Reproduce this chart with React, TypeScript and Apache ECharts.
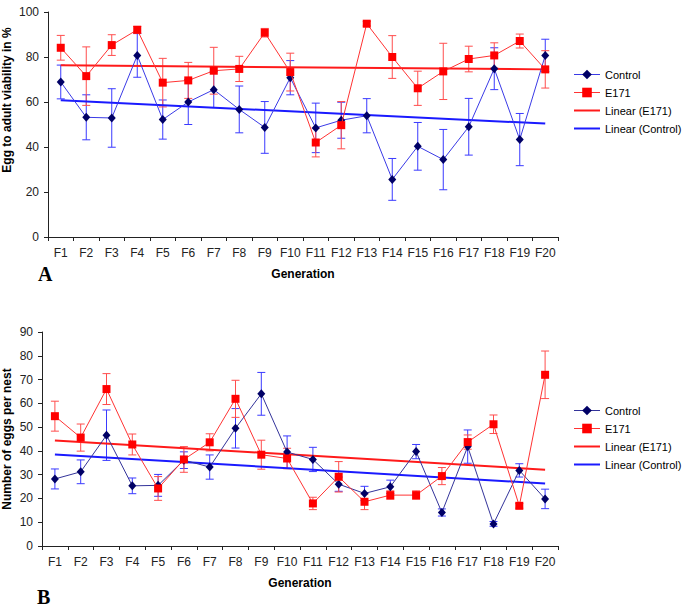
import React, { useEffect, useRef } from "react";
import * as echarts from "echarts";

const generations = ["F1","F2","F3","F4","F5","F6","F7","F8","F9","F10","F11","F12","F13","F14","F15","F16","F17","F18","F19","F20"];

// Panel A: egg to adult viability (%)
const viabControl = [68.9, 53.2, 52.9, 80.7, 52.2, 60.0, 65.5, 56.7, 48.7, 70.8, 48.5, 51.9, 53.9, 25.6, 40.3, 34.4, 49.0, 74.8, 43.3, 80.7];
const viabControlErr = [7.5, 10, 13, 9.7, 8.7, 10, 8, 10.4, 11.5, 7.6, 11, 8, 7.6, 9.3, 10.6, 13.4, 12.6, 9.3, 11.6, 7.2];
const viabE171 = [84.1, 71.5, 85.3, 92.1, 68.6, 69.6, 73.9, 74.7, 90.8, 73.3, 42.0, 49.7, 94.8, 80.0, 66.1, 73.6, 79.1, 80.7, 87.1, 74.5];
const viabE171Err = [5.5, 13, 4.6, 1.5, 10.8, 8, 10.4, 5.6, 1.9, 8.4, 6.4, 10.5, 1, 9.5, 7.6, 12.5, 5.7, 5.6, 3.1, 8.3];
const viabTrendE171 = [76.3, 74.5];
const viabTrendControl = [60.8, 50.4];

// Panel B: number of eggs per nest
const eggsControl = [28.2, 31.2, 46.6, 25.3, 25.5, 36.1, 33.2, 49.5, 64.0, 39.5, 36.4, 26.0, 22.1, 24.9, 39.7, 14.1, 41.8, 9.3, 31.8, 19.8];
const eggsControlErr = [4.2, 5, 10.6, 3.3, 4.6, 3.5, 5.1, 8.3, 9, 6.8, 5.1, 3, 3, 2.8, 3, 1.5, 7, 1, 2.8, 4.1];
const eggsE171 = [54.6, 45.6, 66.0, 42.7, 24.2, 36.4, 43.6, 61.9, 38.4, 36.8, 17.9, 29.1, 18.6, 21.4, 21.4, 29.4, 43.7, 51.2, 16.9, 72.0];
const eggsE171Err = [6.3, 5.7, 6.5, 4.4, 5, 5.4, 3.6, 7.8, 6.1, 4.3, 2.6, 6.4, 3.3, 1.8, 1.8, 3.6, 3, 3.9, 1, 10];
const eggsTrendE171 = [44.4, 32.1];
const eggsTrendControl = [38.5, 26.3];

const yTicksA = { min: 0, max: 100, interval: 20 };
const yTicksB = { min: 0, max: 90, interval: 10 };

const FONT = 'Arial, "Liberation Sans", sans-serif';

function trendData(ends: number[]) {
  const last = generations.length - 1;
  return generations.map((_, i) => (i === 0 ? ends[0] : i === last ? ends[1] : null));
}

function errData(vals: number[], errs: number[]) {
  return vals.map((v, i) => [i, v, errs[i]]);
}

function errSeries(name: string, idx: number, vals: number[], errs: number[], color: string) {
  return {
    type: "custom",
    name,
    xAxisIndex: idx,
    yAxisIndex: idx,
    z: 1,
    silent: true,
    encode: { x: 0, y: 1 },
    data: errData(vals, errs),
    renderItem: (params: any, api: any) => {
      const x = api.value(0);
      const v = api.value(1);
      const e = api.value(2);
      const hi = api.coord([x, v + e]);
      const lo = api.coord([x, v - e]);
      const w = 4;
      const st = { stroke: color, lineWidth: 1 };
      return {
        type: "group",
        children: [
          { type: "line", shape: { x1: hi[0], y1: hi[1], x2: lo[0], y2: lo[1] }, style: st },
          { type: "line", shape: { x1: hi[0] - w, y1: hi[1], x2: hi[0] + w, y2: hi[1] }, style: st },
          { type: "line", shape: { x1: lo[0] - w, y1: lo[1], x2: lo[0] + w, y2: lo[1] }, style: st },
        ],
      };
    },
  };
}

function axes(idx: number, ticks: { min: number; max: number; interval: number }) {
  const x = {
    type: "category",
    gridIndex: idx,
    data: generations,
    boundaryGap: true,
    axisLine: { lineStyle: { color: "#222", width: 1 } },
    axisTick: { show: true, length: 4, lineStyle: { color: "#222" } },
    axisLabel: { color: "#222", fontSize: 12, fontFamily: FONT, margin: 10, interval: 0 },
    splitLine: { show: false },
  };
  const y = {
    type: "value",
    gridIndex: idx,
    min: ticks.min,
    max: ticks.max,
    interval: ticks.interval,
    axisLine: { show: true, lineStyle: { color: "#222", width: 1 } },
    axisTick: { show: true, length: 4, lineStyle: { color: "#222" } },
    axisLabel: { color: "#222", fontSize: 12, fontFamily: FONT, margin: 9 },
    splitLine: { show: false },
  };
  return { x, y };
}

function legendFor(top: number, controlLine: string) {
  return {
    orient: "vertical",
    left: 568,
    top,
    itemWidth: 26,
    itemHeight: 12,
    itemGap: 7,
    textStyle: { fontSize: 11, fontFamily: FONT, color: "#000" },
    data: [
      { name: "Control", itemStyle: { color: "#000066" }, lineStyle: { color: controlLine, width: 1 } },
      { name: "E171", itemStyle: { color: "#ff0000" }, lineStyle: { color: "#ff3333", width: 1 } },
      { name: "Linear (E171)", itemStyle: { color: "#ff1a1a", opacity: 0 }, lineStyle: { color: "#ff1a1a", width: 2 } },
      { name: "Linear (Control)", itemStyle: { color: "#1a1aff", opacity: 0 }, lineStyle: { color: "#1a1aff", width: 2 } },
    ],
  };
}

export default function App() {
  const ref = useRef<HTMLDivElement>(null);
  useEffect(() => {
    if (!ref.current) return;
    const chart = echarts.init(ref.current, null, { renderer: "svg" });
    const a = axes(0, yTicksA);
    const b = axes(1, yTicksB);
    const ctrlLineA = "#3a3ae6";
    const ctrlLineB = "#33339a";
    const option: any = {
      animation: false,
      backgroundColor: "#fff",
      grid: [
        { left: 48, top: 12, width: 510, height: 225, containLabel: false },
        { left: 42, top: 332, width: 516, height: 214, containLabel: false },
      ],
      xAxis: [a.x, b.x],
      yAxis: [a.y, b.y],
      legend: [legendFor(64, ctrlLineA), legendFor(400, ctrlLineB)],
      series: [
        errSeries("Control err A", 0, viabControl, viabControlErr, "#3a3aff"),
        errSeries("E171 err A", 0, viabE171, viabE171Err, "#ff4d4d"),
        {
          type: "line", name: "Linear (E171)", xAxisIndex: 0, yAxisIndex: 0, z: 3,
          data: trendData(viabTrendE171), connectNulls: true, symbol: "none",
          lineStyle: { color: "#ff1a1a", width: 2 }, itemStyle: { color: "#ff1a1a" },
        },
        {
          type: "line", name: "Linear (Control)", xAxisIndex: 0, yAxisIndex: 0, z: 3,
          data: trendData(viabTrendControl), connectNulls: true, symbol: "none",
          lineStyle: { color: "#1a1aff", width: 2 }, itemStyle: { color: "#1a1aff" },
        },
        {
          type: "line", name: "Control", xAxisIndex: 0, yAxisIndex: 0, z: 4,
          data: viabControl, symbol: "diamond", symbolSize: [8, 9],
          lineStyle: { color: ctrlLineA, width: 1 }, itemStyle: { color: "#000066" },
        },
        {
          type: "line", name: "E171", xAxisIndex: 0, yAxisIndex: 0, z: 5,
          data: viabE171, symbol: "rect", symbolSize: 8,
          lineStyle: { color: "#ff3333", width: 1 }, itemStyle: { color: "#ff0000" },
        },
        errSeries("Control err B", 1, eggsControl, eggsControlErr, "#3a3aff"),
        errSeries("E171 err B", 1, eggsE171, eggsE171Err, "#ff4d4d"),
        {
          type: "line", name: "Linear (E171)", xAxisIndex: 1, yAxisIndex: 1, z: 3,
          data: trendData(eggsTrendE171), connectNulls: true, symbol: "none",
          lineStyle: { color: "#ff1a1a", width: 2 }, itemStyle: { color: "#ff1a1a" },
        },
        {
          type: "line", name: "Linear (Control)", xAxisIndex: 1, yAxisIndex: 1, z: 3,
          data: trendData(eggsTrendControl), connectNulls: true, symbol: "none",
          lineStyle: { color: "#1a1aff", width: 2 }, itemStyle: { color: "#1a1aff" },
        },
        {
          type: "line", name: "Control", xAxisIndex: 1, yAxisIndex: 1, z: 4,
          data: eggsControl, symbol: "diamond", symbolSize: [8, 9],
          lineStyle: { color: ctrlLineB, width: 1 }, itemStyle: { color: "#000066" },
        },
        {
          type: "line", name: "E171", xAxisIndex: 1, yAxisIndex: 1, z: 5,
          data: eggsE171, symbol: "rect", symbolSize: 8,
          lineStyle: { color: "#ff3333", width: 1 }, itemStyle: { color: "#ff0000" },
        },
      ],
      graphic: [
        {
          type: "text", x: 7, y: 100, rotation: Math.PI / 2,
          style: { text: "Egg to adult viability in %", font: `bold 12px ${FONT}`, fill: "#000", textAlign: "center", textVerticalAlign: "middle" },
        },
        {
          type: "text", x: 7, y: 439, rotation: Math.PI / 2,
          style: { text: "Number of eggs per nest", font: `bold 12px ${FONT}`, fill: "#000", textAlign: "center", textVerticalAlign: "middle" },
        },
        {
          type: "text", x: 303, y: 274,
          style: { text: "Generation", font: `bold 12px ${FONT}`, fill: "#000", textAlign: "center", textVerticalAlign: "middle" },
        },
        {
          type: "text", x: 300, y: 583,
          style: { text: "Generation", font: `bold 12px ${FONT}`, fill: "#000", textAlign: "center", textVerticalAlign: "middle" },
        },
        {
          type: "text", x: 38, y: 274,
          style: { text: "A", font: `bold 20px "Liberation Serif", "Times New Roman", serif`, fill: "#000", textAlign: "left", textVerticalAlign: "middle" },
        },
        {
          type: "text", x: 37, y: 597,
          style: { text: "B", font: `bold 20px "Liberation Serif", "Times New Roman", serif`, fill: "#000", textAlign: "left", textVerticalAlign: "middle" },
        },
      ],
    };
    chart.setOption(option);
    return () => chart.dispose();
  }, []);
  return (
    <div
      ref={ref}
      style={{ position: "absolute", left: 0, top: 0, width: 685, height: 608, background: "#fff" }}
    />
  );
}
